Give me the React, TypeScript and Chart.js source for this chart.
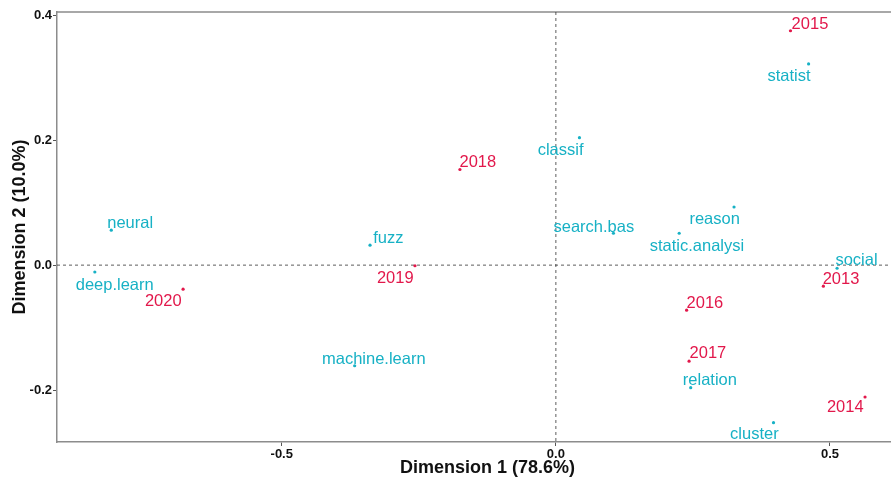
import { useEffect, useRef } from 'react';
import { Chart, registerables } from 'chart.js';

Chart.register(...registerables);

// Row points (terms)
const termLabels = ['neural', 'deep.learn', 'fuzz', 'machine.learn', 'classif', 'search.bas', 'reason', 'static.analysi', 'statist', 'social', 'relation', 'cluster'];
const termX = [-0.811, -0.841, -0.339, -0.367, 0.043, 0.105, 0.325, 0.225, 0.461, 0.513, 0.246, 0.397];
const termY = [0.056, -0.011, 0.032, -0.161, 0.204, 0.051, 0.093, 0.051, 0.322, -0.005, -0.196, -0.252];
// Repelled label positions (data units)
const termLabelX = [-0.7765, -0.8047, -0.3057, -0.3321, 0.0086, 0.0693, 0.2896, 0.2573, 0.4252, 0.5484, 0.281, 0.3622];
const termLabelY = [0.0688, -0.0304, 0.0453, -0.1493, 0.1851, 0.0624, 0.0747, 0.032, 0.304, 0.0091, -0.1824, -0.2683];

// Column points (years)
const yearLabels = ['2013', '2014', '2015', '2016', '2017', '2018', '2019', '2020'];
const yearX = [0.488, 0.564, 0.428, 0.2385, 0.243, -0.175, -0.257, -0.680];
const yearY = [-0.0336, -0.211, 0.375, -0.072, -0.1536, 0.153, -0.001, -0.0384];
const yearLabelX = [0.5201, 0.5279, 0.4635, 0.2719, 0.2774, -0.1423, -0.2929, -0.7162];
const yearLabelY = [-0.0203, -0.2256, 0.3877, -0.0587, -0.1397, 0.1664, -0.0187, -0.056];

const xTicks = [-0.5, 0, 0.5];
const yTicks = [-0.2, 0, 0.2, 0.4];
const xTitle = 'Dimension 1 (78.6%)';
const yTitle = 'Dimension 2 (10.0%)';

const TEAL = '#17B1C5';
const RED = '#E2184B';
const FONT = '"Liberation Sans", Arial, sans-serif';
const LABEL_SHIFT = 1.5;

const labelPlugin = {
  id: 'caLabels',
  beforeDatasetsDraw(chart: any) {
    const { ctx, chartArea, scales } = chart;
    const x0 = scales.x.getPixelForValue(0);
    const y0 = scales.y.getPixelForValue(0);
    ctx.save();
    ctx.strokeStyle = '#8c8c8c';
    ctx.lineWidth = 1.5;
    ctx.beginPath();
    ctx.moveTo(chartArea.left, chartArea.top);
    ctx.lineTo(chartArea.right, chartArea.top);
    ctx.lineTo(chartArea.right, chartArea.bottom);
    ctx.stroke();
    ctx.strokeStyle = '#333';
    ctx.lineWidth = 0.8;
    ctx.setLineDash([3, 3]);
    ctx.beginPath();
    ctx.moveTo(x0, chartArea.top);
    ctx.lineTo(x0, chartArea.bottom);
    ctx.moveTo(chartArea.left, y0);
    ctx.lineTo(chartArea.right, y0);
    ctx.stroke();
    ctx.restore();
  },
  afterDatasetsDraw(chart: any) {
    const { ctx, scales } = chart;
    ctx.save();
    ctx.font = `16.5px ${FONT}`;
    ctx.textAlign = 'center';
    ctx.textBaseline = 'middle';
    ctx.fillStyle = TEAL;
    termLabels.forEach((t, i) => {
      ctx.fillText(t, scales.x.getPixelForValue(termLabelX[i]), scales.y.getPixelForValue(termLabelY[i]) + LABEL_SHIFT);
    });
    ctx.fillStyle = RED;
    yearLabels.forEach((t, i) => {
      ctx.fillText(t, scales.x.getPixelForValue(yearLabelX[i]), scales.y.getPixelForValue(yearLabelY[i]) + LABEL_SHIFT);
    });
    ctx.restore();
  },
};

export default function App() {
  const ref = useRef<HTMLCanvasElement>(null);
  useEffect(() => {
    if (!ref.current) return;
    const chart = new Chart(ref.current, {
      type: 'scatter',
      data: {
        datasets: [
          {
            label: 'terms',
            data: termX.map((x, i) => ({ x, y: termY[i] })),
            backgroundColor: TEAL,
            borderColor: TEAL,
            pointRadius: 1.6,
            borderWidth: 0,
          },
          {
            label: 'years',
            data: yearX.map((x, i) => ({ x, y: yearY[i] })),
            backgroundColor: RED,
            borderColor: RED,
            pointRadius: 1.6,
            borderWidth: 0,
          },
        ],
      },
      options: {
        responsive: false,
        animation: false,
        events: [],
        layout: { padding: { left: 9, top: 12, right: 7, bottom: 0 } },
        plugins: { legend: { display: false }, tooltip: { enabled: false } },
        scales: {
          x: {
            type: 'linear',
            min: -0.91,
            max: 0.6606,
            afterBuildTicks: (s: any) => { s.ticks = xTicks.map((v) => ({ value: v })); },
            afterFit: (s: any) => { s.height = 37; },
            grid: { drawOnChartArea: false, drawTicks: true, tickLength: 4, tickColor: '#555', tickWidth: 1 },
            border: { display: true, color: '#8c8c8c', width: 1.5 },
            ticks: {
              padding: 1,
              color: '#111',
              font: { family: FONT, size: 13, weight: 'bold' },
              callback: (v: any) => Number(v).toFixed(1),
            },
            title: { display: true, text: xTitle, color: '#111', padding: 0, font: { family: FONT, size: 18, weight: 'bold' } },
          },
          y: {
            type: 'linear',
            min: -0.283,
            max: 0.405,
            afterBuildTicks: (s: any) => { s.ticks = yTicks.map((v) => ({ value: v })); },
            afterFit: (s: any) => { s.width = 48; },
            grid: { drawOnChartArea: false, drawTicks: true, tickLength: 4, tickColor: '#555', tickWidth: 1 },
            border: { display: true, color: '#8c8c8c', width: 1.5 },
            ticks: {
              padding: 1,
              color: '#111',
              font: { family: FONT, size: 13, weight: 'bold' },
              callback: (v: any) => Number(v).toFixed(1),
            },
            title: { display: true, text: yTitle, color: '#111', padding: 0, font: { family: FONT, size: 18, weight: 'bold' } },
          },
        },
      },
      plugins: [labelPlugin],
    });
    return () => chart.destroy();
  }, []);
  return (
    <div style={{ position: 'fixed', left: 0, top: 0, width: 891, height: 479, overflow: 'hidden', background: '#fff' }}>
      <canvas ref={ref} width={925} height={479} style={{ display: 'block' }} />
    </div>
  );
}
